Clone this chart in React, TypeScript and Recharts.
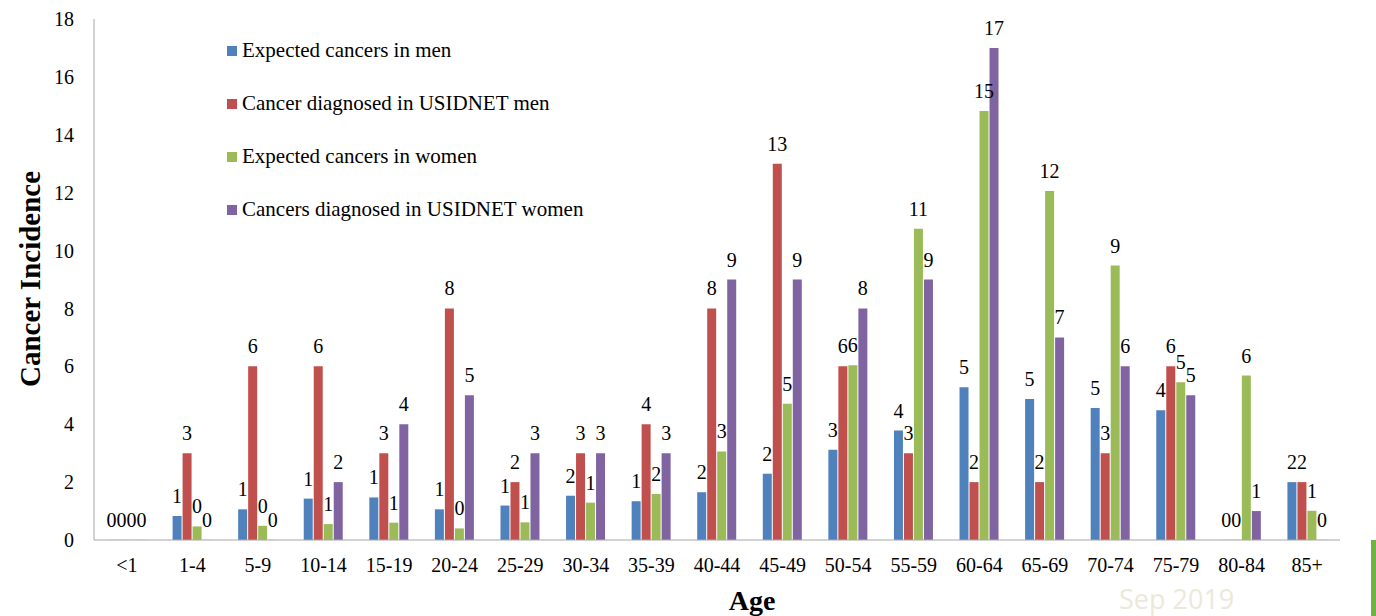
import React from "react";
import { Bar, BarChart, XAxis, YAxis, LabelList, Legend, Label } from "recharts";

// age bands on the x axis
const ageGroups = [
  "<1", "1-4", "5-9", "10-14", "15-19", "20-24", "25-29", "30-34", "35-39", "40-44",
  "45-49", "50-54", "55-59", "60-64", "65-69", "70-74", "75-79", "80-84", "85+",
];

const expectedMen = [
  0, 0.83, 1.06, 1.43, 1.47, 1.06, 1.19, 1.53, 1.34, 1.65,
  2.29, 3.12, 3.78, 5.28, 4.87, 4.56, 4.48, 0, 2.0,
];
const diagnosedMen = [0, 3, 6, 6, 3, 8, 2, 3, 4, 8, 13, 6, 3, 2, 2, 3, 6, 0, 2];
const expectedWomen = [
  0, 0.47, 0.49, 0.55, 0.6, 0.4, 0.61, 1.29, 1.59, 3.06,
  4.71, 6.04, 10.75, 14.82, 12.06, 9.48, 5.45, 5.68, 1.01,
];
const diagnosedWomen = [0, 0, 0, 2, 4, 5, 3, 3, 3, 9, 9, 8, 9, 17, 7, 6, 5, 1, 0];

const yTicks = [0, 2, 4, 6, 8, 10, 12, 14, 16, 18];

const series = [
  { key: "expMen", name: "Expected cancers in men", color: "#4f81bd" },
  { key: "diagMen", name: "Cancer diagnosed in USIDNET men", color: "#c0504d" },
  { key: "expWomen", name: "Expected cancers in women", color: "#9bbb59" },
  { key: "diagWomen", name: "Cancers diagnosed in USIDNET women", color: "#8064a2" },
];

const data = ageGroups.map((age, i) => ({
  age,
  expMen: expectedMen[i],
  diagMen: diagnosedMen[i],
  expWomen: expectedWomen[i],
  diagWomen: diagnosedWomen[i],
}));

const FONT = "'Liberation Serif', 'DejaVu Serif', serif";

const renderLegend = () => (
  <div style={{ fontFamily: FONT, fontSize: 21, color: "#000", textAlign: "left" }}>
    {series.map((s) => (
      <div key={s.key} style={{ display: "flex", alignItems: "center", height: 53 }}>
        <span style={{ width: 10, height: 10, background: s.color, marginRight: 5, display: "inline-block" }} />
        <span>{s.name}</span>
      </div>
    ))}
  </div>
);

export default function App() {
  return (
    <div style={{ position: "fixed", left: 0, top: 0, width: 1376, height: 616, background: "#fff", overflow: "hidden" }}>
      <BarChart
        width={1376}
        height={616}
        data={data}
        margin={{ top: 19, right: 36, bottom: 0, left: 0 }}
        barCategoryGap="19%"
        barGap={1}
      >
        <XAxis
          dataKey="age"
          height={76}
          stroke="#a6a6a6"
          tickLine={false}
          tickMargin={12}
          tick={{ fill: "#000", fontFamily: FONT, fontSize: 20 }}
        >
          <Label
            content={() => (
              <text x={752} y={610} textAnchor="middle" fontFamily={FONT} fontSize={28} fontWeight="bold" fill="#000">
                Age
              </text>
            )}
          />
        </XAxis>
        <YAxis
          width={94}
          domain={[0, 18]}
          ticks={yTicks}
          stroke="#a6a6a6"
          tickLine={false}
          tickMargin={14}
          tick={{ fill: "#000", fontFamily: FONT, fontSize: 20 }}
        >
          <Label
            content={() => (
              <text
                x={40}
                y={279}
                transform="rotate(-90 40 279)"
                textAnchor="middle"
                fontFamily={FONT}
                fontSize={29}
                fontWeight="bold"
                fill="#000"
              >
                Cancer Incidence
              </text>
            )}
          />
        </YAxis>
        <Legend
          layout="vertical"
          verticalAlign="middle"
          align="center"
          content={renderLegend}
          wrapperStyle={{ left: 227, top: 24, width: 420 }}
        />
        {series.map((s) => (
          <Bar
            key={s.key}
            dataKey={s.key}
            name={s.name}
            fill={s.color}
            barSize={9}
            minPointSize={0.1}
            isAnimationActive={false}
          >
            <LabelList
              dataKey={s.key}
              position="top"
              offset={13}
              formatter={(v: number) => String(Math.round(v))}
              style={{ fill: "#000", fontFamily: FONT, fontSize: 20 }}
            />
          </Bar>
        ))}
      </BarChart>
      <div
        style={{
          position: "absolute",
          left: 1119,
          top: 580,
          fontFamily: "'Open Sans', sans-serif",
          fontSize: 27,
          color: "#ece8da",
        }}
      >
        Sep 2019
      </div>
      <div style={{ position: "absolute", left: 1371, top: 540, width: 5, height: 76, background: "#6cb33f" }} />
    </div>
  );
}
